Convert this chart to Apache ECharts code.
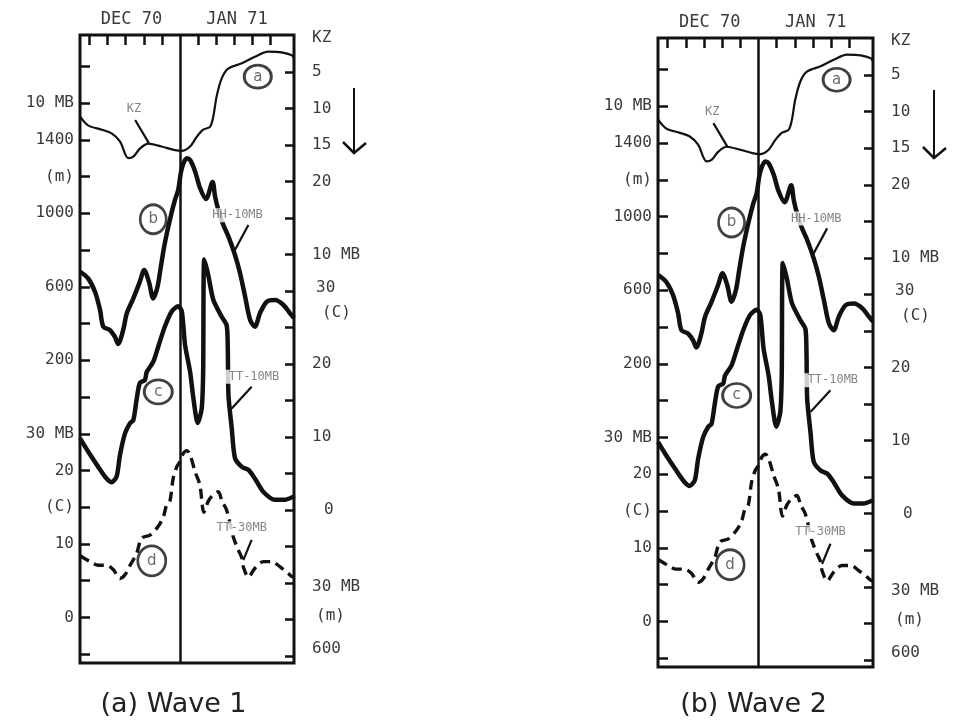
<!DOCTYPE html>
<html><head><meta charset="utf-8">
<script src="https://cdn.jsdelivr.net/npm/echarts@6/dist/echarts.min.js"></script>
<style>html,body{margin:0;padding:0;background:#fff}#c{width:960px;height:725px}</style>
</head><body><div id="c"></div>
<script>
// x values: days relative to 1 Jan 1971 (centre line)
// KZ (right, inverted scale), HH-10MB in m (left), TT-10MB in C (right), TT-30MB in C (left)
const kz = [[-27.6,11.1],[-25.4,12.3],[-21.6,12.9],[-18.9,13.4],[-16.6,14.5],[-14.3,16.8],[-12.9,16.6],[-11.1,15.5],[-8.8,14.8],[-5.1,15.2],[-1.4,15.7],[0.5,15.8],[2.8,15.2],[4.6,13.9],[6.4,12.9],[8.3,12.5],[9.2,11.1],[10.1,8.4],[11.5,5.9],[13.4,4.5],[17.1,3.8],[20.7,2.9],[24.4,2.2],[28.1,2.3],[30.9,2.7],[31.5,3.1]];
const hh10 = [[-27.6,682],[-25.4,646],[-23.5,573],[-22.1,474],[-21.2,383],[-19.4,365],[-18.0,328],[-17.1,289],[-15.7,365],[-14.7,456],[-12.9,537],[-11.1,628],[-9.9,692],[-8.6,628],[-7.4,537],[-6.2,601],[-5.3,709],[-4.2,837],[-2.8,964],[-1.4,1073],[-0.5,1127],[0.5,1245],[1.9,1300],[2.8,1290],[4.2,1227],[5.5,1140],[7.2,1078],[9.0,1171],[9.7,1091],[10.6,1018],[12.0,936],[13.4,873],[15.2,773],[16.6,674],[18.0,546],[19.4,419],[20.7,383],[22.1,456],[24.0,519],[26.3,528],[28.6,501],[30.4,456],[31.5,429]];
const tt10 = [[-27.6,9.8],[-25.4,8.0],[-22.6,5.9],[-20.3,4.3],[-18.9,3.8],[-17.5,4.6],[-16.6,7.5],[-15.2,10.5],[-13.8,11.9],[-12.9,12.3],[-12.0,15.1],[-11.1,17.4],[-9.7,17.8],[-9.2,18.9],[-7.4,20.3],[-6.0,22.4],[-4.2,25.1],[-2.3,27.2],[-0.5,27.9],[0.5,27.2],[1.4,22.6],[2.8,18.9],[3.7,15.3],[4.9,11.9],[6.0,13.9],[6.4,18.9],[6.7,34.3],[7.8,32.2],[9.2,28.8],[11.5,26.5],[12.9,25.3],[13.2,22.4],[13.4,15.7],[14.3,11.2],[15.2,7.1],[17.1,5.9],[18.9,5.5],[20.7,4.3],[23.0,2.5],[26.3,1.4],[29.0,1.4],[31.3,1.8],[31.5,1.9]];
const tt30 = [[-27.6,8.4],[-24.9,7.6],[-22.6,7.1],[-20.3,7.1],[-18.4,6.5],[-16.6,5.3],[-15.2,5.8],[-13.8,7.1],[-12.0,8.7],[-10.6,10.8],[-8.3,11.2],[-6.0,12.4],[-4.6,13.7],[-3.7,15.3],[-2.8,15.8],[-1.9,18.9],[-0.9,20.5],[0,21.2],[0.9,22.3],[1.9,22.7],[2.8,22.1],[4.2,19.8],[5.5,18.0],[6.6,14.3],[7.8,15.8],[9.2,16.7],[10.6,17.1],[11.6,15.8],[12.9,14.6],[14.7,11.0],[16.1,9.2],[17.1,8.1],[17.5,6.9],[18.9,5.5],[20.7,6.7],[23.0,7.6],[25.4,7.6],[27.6,6.9],[29.9,6.0],[31.3,5.5],[31.5,5.5]];

// tick labels (positions in tick units, 0 = bottom tick)
const monthLabels = [[-13.4,'DEC 70'],[15.75,'JAN 71']];
const topTickDays = [-25,-20,-15,-10,-5,5,10,15,20,25];
const leftTickLabels = [[15,'10 MB'],[14,'1400'],[13,'(m)'],[12,'1000'],[10,'600'],[8,'200'],[6,'30 MB'],[5,'20'],[4,'(C)'],[3,'10'],[1,'0']];
const rightTickLabels = [[16.93,'KZ'],[16,'5'],[15,'10'],[14,'15'],[13,'20'],[11,'10 MB'],[10.1,'30'],[9.4,'(C)'],[8,'20'],[6,'10'],[4,'0'],[1.9,'30 MB'],[1.1,'(m)'],[0.2,'600']];
const tickUnits = [0,1,2,3,4,5,6,7,8,9,10,11,12,13,14,15,16];

// annotations (day, left tick units)
const circles = [[21.5,15.72,'a'],[-7.4,11.84,'b'],[-6.0,7.14,'c'],[-7.8,2.54,'d']];
const curveNames = [[-12.7,14.84,'KZ'],[15.9,11.95,'HH-10MB'],[20.45,7.55,'TT-10MB'],[17.05,3.43,'TT-30MB']];
const pointers = [[[-12.4,14.54],[-8.6,13.91]],[[18.9,11.68],[14.95,10.96]],[[19.8,7.28],[14.3,6.69]],[[19.8,3.11],[17.5,2.56]]];
const panelTitles = ['(a) Wave 1','(b) Wave 2'];

const DAY = [-27.64, 31.51];
const KL = [-0.24, 16.854];   // left scale in tick units
const KR = [-0.195, 17.016];  // right scale in tick units
const FONT = 'DejaVu Sans Mono';
const INK = '#111';
const TXT = '#3a3a3a';
const circleSizes = {a:[27,23], b:[26,29], c:[28,24], d:[28,30]};
const rightIndent = {'(C)':10, '0':12, '30':4, '(m)':4};

const grids = [
  {left:80, top:35, width:214, height:628},
  {left:658, top:38, width:215, height:629}
];

function lookup(list, v){ for(const e of list){ if(Math.abs(e[0]-v)<1e-6) return e[1]; } return ''; }

const xAxis=[], yAxis=[], series=[];
grids.forEach((g,gi)=>{
  xAxis.push({type:'value', gridIndex:gi, position:'top', min:DAY[0], max:DAY[1],
    axisLine:{show:false, onZero:false}, splitLine:{show:false},
    axisTick:{show:true, inside:true, length:10, customValues:topTickDays, lineStyle:{color:INK,width:2.5}},
    axisLabel:{show:true, customValues:monthLabels.map(m=>m[0]), formatter:v=>lookup(monthLabels,v),
      margin:7, fontFamily:FONT, fontSize:17, color:TXT}});
  const b = gi*6;
  yAxis.push({type:'value', gridIndex:gi, position:'left', min:KL[0], max:KL[1],
    axisLine:{show:false, onZero:false}, splitLine:{show:false},
    axisTick:{show:true, inside:true, length:10, customValues:tickUnits, lineStyle:{color:INK,width:2.5}},
    axisLabel:{show:true, customValues:leftTickLabels.map(e=>e[0]), formatter:v=>lookup(leftTickLabels,v),
      margin:6, fontFamily:FONT, fontSize:16, color:TXT}});
  yAxis.push({type:'value', gridIndex:gi, position:'right', min:KR[0], max:KR[1],
    axisLine:{show:false, onZero:false}, splitLine:{show:false},
    axisTick:{show:true, inside:true, length:9, customValues:tickUnits, lineStyle:{color:INK,width:2.5}},
    axisLabel:{show:true, customValues:rightTickLabels.map(e=>e[0]),
      formatter:v=>{const t=lookup(rightTickLabels,v); const ind=rightIndent[t]; return ind?'{i'+ind+'|'+t+'}':t;},
      rich:{i4:{padding:[0,0,0,4],fontFamily:FONT,fontSize:16,color:TXT},i10:{padding:[0,0,0,10],fontFamily:FONT,fontSize:16,color:TXT},i12:{padding:[0,0,0,12],fontFamily:FONT,fontSize:16,color:TXT}},
      margin:18, fontFamily:FONT, fontSize:16, color:TXT}});
  // hidden quantity scales, derived from the tick-unit scales
  yAxis.push({type:'value', gridIndex:gi, show:false, inverse:true, min:5*(17-KR[1]), max:5*(17-KR[0])}); // KZ
  yAxis.push({type:'value', gridIndex:gi, show:false, min:200*(KL[0]-7), max:200*(KL[1]-7)});          // HH-10MB (m)
  yAxis.push({type:'value', gridIndex:gi, show:false, min:5*(KR[0]-4), max:5*(KR[1]-4)});              // TT-10MB (C)
  yAxis.push({type:'value', gridIndex:gi, show:false, min:5*(KL[0]-1), max:5*(KL[1]-1)});              // TT-30MB (C)

  series.push({type:'line', name:'KZ', xAxisIndex:gi, yAxisIndex:b+2, data:kz, showSymbol:false, smooth:0.3,
    lineStyle:{color:INK,width:2.2}, z:3,
    markLine:{silent:true, symbol:['none','none'], label:{show:false}, lineStyle:{color:INK,width:2.5,type:'solid'}, data:[{xAxis:0}]}});
  series.push({type:'line', name:'HH-10MB', xAxisIndex:gi, yAxisIndex:b+3, data:hh10, showSymbol:false, smooth:0.3,
    lineStyle:{color:INK,width:4.5}, z:3});
  series.push({type:'line', name:'TT-10MB', xAxisIndex:gi, yAxisIndex:b+4, data:tt10, showSymbol:false, smooth:0.25,
    lineStyle:{color:INK,width:4.5}, z:3});
  series.push({type:'line', name:'TT-30MB', xAxisIndex:gi, yAxisIndex:b+5, data:tt30, showSymbol:false, smooth:0.3,
    lineStyle:{color:INK,width:3.4,type:[10,6]}, z:3});
  pointers.forEach(p=>{
    series.push({type:'line', xAxisIndex:gi, yAxisIndex:b, data:p, showSymbol:false, lineStyle:{color:INK,width:2.2}, z:3, silent:true});
  });
  series.push({type:'scatter', xAxisIndex:gi, yAxisIndex:b, z:6, silent:true,
    data:curveNames.map(c=>({value:[c[0],c[1]], name:c[2]})), symbolSize:1, itemStyle:{color:'rgba(0,0,0,0)'},
    label:{show:true, position:'inside', formatter:p=>p.name, fontFamily:FONT, fontSize:12, color:'#666',
      backgroundColor:'#fff', padding:[1,8]}});
  series.push({type:'scatter', xAxisIndex:gi, yAxisIndex:b, z:5, silent:true,
    data:circles.map(c=>({value:[c[0],c[1]], name:c[2], symbolSize:circleSizes[c[2]]})), symbol:'circle',
    itemStyle:{color:'rgba(255,255,255,0)', borderColor:INK, borderWidth:2.8},
    label:{show:true, position:'inside', formatter:p=>p.name, fontFamily:'DejaVu Sans', fontSize:15, color:'#444'}});
});

const graphic = [];
[[354,88,153],[934,90,158]].forEach(a=>{
  graphic.push({type:'line', shape:{x1:a[0],y1:a[1],x2:a[0],y2:a[2]}, style:{stroke:INK,lineWidth:2}});
  graphic.push({type:'polyline', shape:{points:[[a[0]-11,a[2]-11],[a[0],a[2]],[a[0]+12,a[2]-10]]}, style:{stroke:INK,lineWidth:2.5,fill:null}});
});
[[173.5,705],[753.5,705]].forEach((p,i)=>{
  graphic.push({type:'text', x:p[0], y:p[1], style:{text:panelTitles[i], font:'27px "DejaVu Sans"', fill:'#222', textAlign:'center', textVerticalAlign:'middle'}});
});

const chart = echarts.init(document.getElementById('c'), null, {renderer:'canvas'});
chart.setOption({
  animation:false, backgroundColor:'#fff',
  grid: grids.map(g=>Object.assign({show:true, borderColor:INK, borderWidth:3, backgroundColor:'rgba(0,0,0,0)', containLabel:false}, g)),
  xAxis, yAxis, series, graphic
});
</script></body></html>
